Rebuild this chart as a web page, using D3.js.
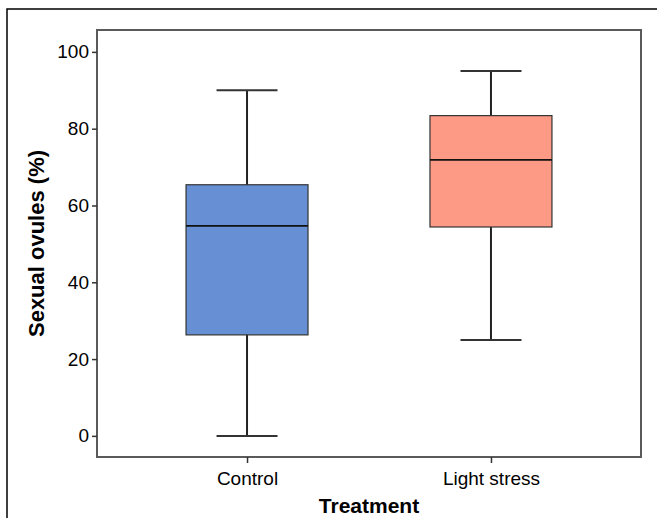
<!DOCTYPE html>
<html>
<head>
<meta charset="utf-8">
<script src="https://cdn.jsdelivr.net/npm/d3@7"></script>
<style>
body { margin: 0; background: #fff; }
svg { display: block; font-family: "Liberation Sans", Arial, sans-serif; }
</style>
</head>
<body>
<svg width="657" height="518"></svg>
<script>
var categories = ["Control", "Light stress"];
var mins = [0, 25];
var q1s = [26.3, 54.4];
var medians = [54.7, 71.9];
var q3s = [65.4, 83.4];
var maxs = [90, 95];
var colors = ["#6690d3", "#fd9a85"];
var yTicks = [0, 20, 40, 60, 80, 100];

var svg = d3.select("svg");
var frame = {left: 97, right: 641, top: 30, bottom: 457};

// outer border (top and left only are visible)
svg.append("path")
    .attr("d", "M7,518V9H657")
    .attr("fill", "none")
    .attr("stroke", "#000")
    .attr("stroke-width", 1.5);

var x = d3.scalePoint().domain(categories).range([frame.left, frame.right]).padding(0.615);
var y = d3.scaleLinear().domain([-5.5, 105.7]).range([frame.bottom, frame.top]);
var boxW = x.step() * 0.5;

var data = categories.map(function (c, i) {
    return {cat: c, min: mins[i], q1: q1s[i], med: medians[i], q3: q3s[i], max: maxs[i], color: colors[i]};
});

// plot frame
svg.append("rect")
    .attr("x", frame.left).attr("y", frame.top)
    .attr("width", frame.right - frame.left).attr("height", frame.bottom - frame.top)
    .attr("fill", "none").attr("stroke", "#5a5a5a").attr("stroke-width", 2);

// y axis
var yAxis = svg.append("g")
    .attr("transform", "translate(" + frame.left + ",0)")
    .call(d3.axisLeft(y).tickValues(yTicks).tickSize(5).tickPadding(3));
yAxis.select(".domain").remove();
yAxis.selectAll(".tick line").attr("stroke", "#333").attr("stroke-width", 1.5);
yAxis.selectAll(".tick text").attr("font-size", 19).attr("font-family", "Liberation Sans, Arial, sans-serif").attr("fill", "#000");

// x axis
var xAxis = svg.append("g")
    .attr("transform", "translate(0," + frame.bottom + ")")
    .call(d3.axisBottom(x).tickSize(6).tickPadding(9));
xAxis.select(".domain").remove();
xAxis.selectAll(".tick line").attr("stroke", "#333").attr("stroke-width", 1.5);
xAxis.selectAll(".tick text").attr("font-size", 19).attr("font-family", "Liberation Sans, Arial, sans-serif").attr("fill", "#000");

// boxes
var box = svg.append("g").selectAll("g").data(data).enter().append("g");

box.append("line")
    .attr("x1", function (d) { return x(d.cat); })
    .attr("x2", function (d) { return x(d.cat); })
    .attr("y1", function (d) { return y(d.max); })
    .attr("y2", function (d) { return y(d.min); })
    .attr("stroke", "#222").attr("stroke-width", 2);

box.selectAll(".cap")
    .data(function (d) { return [{cat: d.cat, v: d.min}, {cat: d.cat, v: d.max}]; })
    .enter().append("line")
    .attr("class", "cap")
    .attr("x1", function (d) { return x(d.cat) - boxW / 4; })
    .attr("x2", function (d) { return x(d.cat) + boxW / 4; })
    .attr("y1", function (d) { return y(d.v); })
    .attr("y2", function (d) { return y(d.v); })
    .attr("stroke", "#333").attr("stroke-width", 2);

box.append("rect")
    .attr("x", function (d) { return x(d.cat) - boxW / 2; })
    .attr("y", function (d) { return y(d.q3); })
    .attr("width", boxW)
    .attr("height", function (d) { return y(d.q1) - y(d.q3); })
    .attr("fill", function (d) { return d.color; })
    .attr("stroke", "#333").attr("stroke-width", 1.2);

box.append("line")
    .attr("x1", function (d) { return x(d.cat) - boxW / 2; })
    .attr("x2", function (d) { return x(d.cat) + boxW / 2; })
    .attr("y1", function (d) { return y(d.med); })
    .attr("y2", function (d) { return y(d.med); })
    .attr("stroke", "#111").attr("stroke-width", 1.8);

// axis titles
svg.append("text")
    .attr("x", (frame.left + frame.right) / 2)
    .attr("y", 513)
    .attr("text-anchor", "middle")
    .attr("font-size", 21).attr("font-weight", "bold")
    .text("Treatment");

svg.append("text")
    .attr("transform", "translate(44," + (frame.top + frame.bottom) / 2 + ") rotate(-90)")
    .attr("text-anchor", "middle")
    .attr("font-size", 22).attr("font-weight", "bold")
    .text("Sexual ovules (%)");
</script>
</body>
</html>
